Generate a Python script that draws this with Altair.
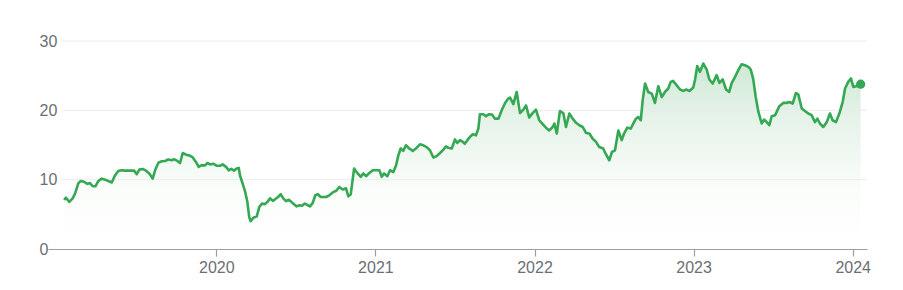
import altair as alt
import pandas as pd

# decimal-year time stamps
years = [
    2019.043, 2019.055, 2019.076, 2019.097, 2019.112, 2019.133, 2019.148, 2019.168, 2019.189, 2019.206,
    2019.223, 2019.240, 2019.258, 2019.280, 2019.301, 2019.321, 2019.343, 2019.363, 2019.384, 2019.405,
    2019.426, 2019.447, 2019.468, 2019.483, 2019.500, 2019.516, 2019.537, 2019.558, 2019.579, 2019.600,
    2019.615, 2019.636, 2019.657, 2019.678, 2019.698, 2019.720, 2019.734, 2019.755, 2019.772, 2019.789,
    2019.810, 2019.830, 2019.852, 2019.872, 2019.889, 2019.908, 2019.929, 2019.944, 2019.961, 2019.981,
    2020.003, 2020.023, 2020.040, 2020.061, 2020.078, 2020.094, 2020.111, 2020.128, 2020.141, 2020.149,
    2020.166, 2020.182, 2020.195, 2020.207, 2020.216, 2020.233, 2020.254, 2020.270, 2020.287, 2020.304,
    2020.321, 2020.338, 2020.355, 2020.371, 2020.388, 2020.405, 2020.421, 2020.438, 2020.455, 2020.471,
    2020.488, 2020.505, 2020.522, 2020.539, 2020.556, 2020.572, 2020.589, 2020.606, 2020.622, 2020.639,
    2020.656, 2020.673, 2020.690, 2020.710, 2020.734, 2020.754, 2020.773, 2020.795, 2020.815, 2020.830,
    2020.845, 2020.866, 2020.886, 2020.908, 2020.924, 2020.941, 2020.962, 2020.983, 2021.004, 2021.025,
    2021.040, 2021.054, 2021.075, 2021.092, 2021.113, 2021.130, 2021.144, 2021.159, 2021.175, 2021.192,
    2021.213, 2021.235, 2021.255, 2021.280, 2021.301, 2021.322, 2021.343, 2021.364, 2021.385, 2021.406,
    2021.427, 2021.444, 2021.458, 2021.480, 2021.500, 2021.515, 2021.532, 2021.549, 2021.563, 2021.578,
    2021.595, 2021.612, 2021.632, 2021.647, 2021.657, 2021.678, 2021.695, 2021.716, 2021.733, 2021.752,
    2021.773, 2021.794, 2021.815, 2021.835, 2021.846, 2021.867, 2021.888, 2021.909, 2021.930, 2021.947,
    2021.967, 2021.988, 2022.009, 2022.030, 2022.052, 2022.072, 2022.093, 2022.114, 2022.125, 2022.140,
    2022.160, 2022.181, 2022.198, 2022.219, 2022.240, 2022.261, 2022.282, 2022.303, 2022.324, 2022.345,
    2022.366, 2022.387, 2022.407, 2022.432, 2022.449, 2022.470, 2022.487, 2022.506, 2022.527, 2022.548,
    2022.563, 2022.583, 2022.605, 2022.621, 2022.638, 2022.652, 2022.668, 2022.680, 2022.695, 2022.715,
    2022.737, 2022.757, 2022.778, 2022.800, 2022.820, 2022.841, 2022.856, 2022.872, 2022.894, 2022.915,
    2022.935, 2022.952, 2022.973, 2022.998, 2023.009, 2023.023, 2023.040, 2023.061, 2023.082, 2023.099,
    2023.120, 2023.145, 2023.162, 2023.183, 2023.204, 2023.224, 2023.240, 2023.260, 2023.281, 2023.302,
    2023.323, 2023.344, 2023.359, 2023.375, 2023.390, 2023.407, 2023.428, 2023.443, 2023.460, 2023.476,
    2023.491, 2023.512, 2023.539, 2023.564, 2023.585, 2023.602, 2023.623, 2023.643, 2023.658, 2023.680,
    2023.700, 2023.721, 2023.742, 2023.763, 2023.778, 2023.794, 2023.815, 2023.837, 2023.857, 2023.874,
    2023.895, 2023.916, 2023.937, 2023.952, 2023.972, 2023.989, 2024.004, 2024.021, 2024.050,
]

price = [
    7.1, 7.4, 6.8, 7.3, 8.0, 9.5, 9.8, 9.7, 9.4, 9.5,
    9.05, 9.05, 9.8, 10.15, 10.0, 9.8, 9.6, 10.6, 11.25, 11.35,
    11.3, 11.3, 11.3, 11.3, 10.8, 11.45, 11.55, 11.3, 10.9, 10.15,
    11.35, 12.45, 12.65, 12.7, 12.9, 12.8, 12.95, 12.7, 12.4, 13.85,
    13.6, 13.5, 13.2, 12.55, 11.85, 12.1, 12.05, 12.4, 12.2, 12.3,
    12.0, 12.0, 12.2, 11.85, 11.35, 11.55, 11.3, 11.6, 11.7, 10.6,
    9.4, 8.2, 6.8, 4.6, 4.0, 4.5, 4.7, 6.05, 6.55, 6.45,
    6.8, 7.3, 6.95, 7.2, 7.5, 7.9, 7.3, 6.9, 7.1, 6.8,
    6.45, 6.15, 6.3, 6.25, 6.55, 6.35, 6.15, 6.65, 7.75, 7.9,
    7.5, 7.5, 7.5, 7.75, 8.2, 8.4, 8.95, 8.57, 8.76, 7.6,
    7.9, 11.6, 10.97, 10.4, 10.9, 10.5, 10.97, 11.36, 11.36, 11.36,
    10.4, 10.9, 10.5, 11.36, 11.1, 12.08, 13.5, 14.5, 14.15, 14.96,
    14.5, 14.15, 14.5, 15.1, 14.96, 14.7, 14.24, 13.2, 13.4, 13.85,
    14.34, 14.8, 14.6, 14.5, 15.8, 15.3, 15.7, 15.45, 15.2, 15.7,
    16.2, 16.55, 16.4, 17.37, 19.44, 19.44, 19.15, 19.44, 19.4, 18.8,
    18.8, 20.0, 21.07, 21.7, 21.85, 20.9, 22.65, 19.6, 20.1, 20.7,
    18.96, 19.6, 20.1, 18.57, 18.0, 17.5, 17.1, 17.6, 18.1, 16.65,
    19.9, 19.6, 17.6, 19.54, 18.8, 18.2, 17.85, 17.6, 16.74, 16.65,
    15.9, 15.45, 14.7, 14.5, 13.67, 12.8, 14.0, 14.24, 17.1, 15.7,
    16.65, 17.5, 17.37, 18.1, 18.8, 19.05, 18.57, 21.45, 23.87, 22.65,
    22.4, 21.07, 23.48, 21.9, 22.65, 23.15, 24.1, 24.24, 23.6, 23.0,
    22.8, 23.0, 22.8, 23.3, 24.4, 26.4, 25.55, 26.75, 25.9, 24.45,
    23.87, 25.07, 23.95, 24.45, 23.0, 22.65, 23.95, 24.8, 25.79, 26.65,
    26.5, 26.26, 25.9, 24.5, 22.0, 19.8, 18.1, 18.67, 18.3, 17.85,
    19.15, 19.3, 20.6, 21.07, 21.07, 21.2, 20.98, 22.5, 22.3, 20.26,
    19.9, 19.54, 19.3, 18.3, 18.8, 18.1, 17.6, 18.3, 19.54, 18.57,
    18.3, 19.54, 21.2, 23.15, 24.1, 24.6, 23.37, 23.48, 23.77,
]

grid_levels = [10, 20, 30]
y_ticks = [0, 10, 20, 30]
x_ticks = [2020, 2021, 2022, 2023, 2024]
x_range = [2018.942, 2024.09]
y_range = [0, 30]

df = pd.DataFrame({"t": years, "p": price})
last = df.tail(1)
grid = pd.DataFrame({"t": [x_range[0]] * len(grid_levels), "p": grid_levels})

W, H = 819, 208
GREEN = "#34a853"
LABEL = "#6b6f73"
AXIS = "#9aa0a6"

xs = alt.Scale(domain=x_range, nice=False, zero=False)
ys = alt.Scale(domain=y_range, nice=False, zero=True)

x_axis = alt.Axis(values=x_ticks, format="d", title=None, grid=False,
                  tickSize=7, labelPadding=3, domainColor=AXIS, tickColor=AXIS,
                  domainWidth=1.2, tickWidth=1.2,
                  labelColor=LABEL, labelFontSize=16, labelFont="Arial",
                  labelFlush=False, labelOverlap=False)
y_axis = alt.Axis(values=y_ticks, title=None, grid=False, domain=False,
                  ticks=False, tickSize=0, labelAlign="left", labelPadding=9,
                  labelColor=LABEL, labelFontSize=16, labelFont="Arial")

X = alt.X("t:Q", scale=xs, axis=x_axis)
Y = alt.Y("p:Q", scale=ys, axis=y_axis)

area = alt.Chart(df).mark_area(
    color=alt.Gradient(
        gradient="linear",
        stops=[alt.GradientStop(color="#d0e9d6", offset=0),
               alt.GradientStop(color="#e6f3e9", offset=0.3),
               alt.GradientStop(color="#fafdfa", offset=0.68),
               alt.GradientStop(color="#ffffff", offset=1)],
        x1=1, x2=1, y1=0, y2=1,
    )
).encode(x=X, y=Y)

rules = alt.Chart(grid).mark_rule(color="#ececec", strokeWidth=1).encode(
    y=Y,
    x=alt.value(14),
    x2=alt.value(W),
)

line = alt.Chart(df).mark_line(color=GREEN, strokeWidth=2.6, strokeJoin="round").encode(x=X, y=Y)

dot = alt.Chart(last).mark_circle(color=GREEN, size=85, opacity=1).encode(x=X, y=Y)

chart = alt.layer(area, rules, line, dot).properties(
    width=W, height=H,
    autosize="none",
    padding={"left": 48, "top": 41, "right": 36, "bottom": 41},
    background="white",
).configure_view(stroke=None)

chart.save("out.html", embed_options={"renderer": "svg", "actions": False})
